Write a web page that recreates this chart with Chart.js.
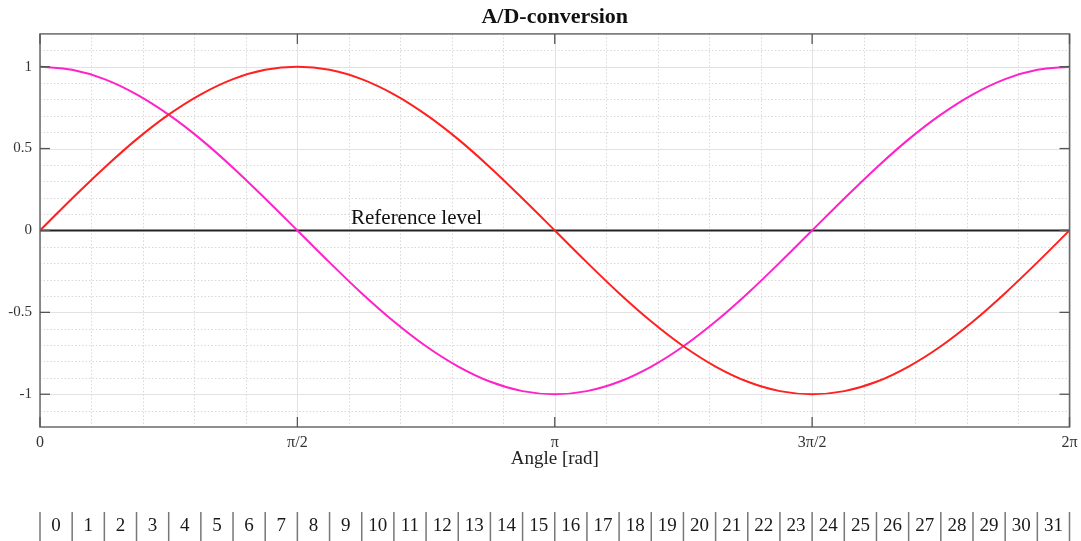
<!DOCTYPE html>
<html><head><meta charset="utf-8">
<script src="https://cdn.jsdelivr.net/npm/chart.js@4/dist/chart.umd.min.js"></script>
<style>html,body{margin:0;padding:0;background:#fff}#wrap{width:1081px;height:541px}</style>
</head><body><div id="wrap"><canvas id="c" width="1081" height="541"></canvas></div>
<script>
// ---- data ----
const angles = [0.000,0.196,0.393,0.589,0.785,0.982,1.178,1.374,1.571,1.767,1.963,2.160,2.356,2.553,2.749,2.945,3.142,3.338,3.534,3.731,3.927,4.123,4.320,4.516,4.712,4.909,5.105,5.301,5.498,5.694,5.890,6.087,6.283];
const sineValues = [0,0.195,0.383,0.556,0.707,0.831,0.924,0.981,1,0.981,0.924,0.831,0.707,0.556,0.383,0.195,0,-0.195,-0.383,-0.556,-0.707,-0.831,-0.924,-0.981,-1,-0.981,-0.924,-0.831,-0.707,-0.556,-0.383,-0.195,0];
const cosineValues = [1,0.981,0.924,0.831,0.707,0.556,0.383,0.195,0,-0.195,-0.383,-0.556,-0.707,-0.831,-0.924,-0.981,-1,-0.981,-0.924,-0.831,-0.707,-0.556,-0.383,-0.195,0,0.195,0.383,0.556,0.707,0.831,0.924,0.981,1];
const referenceAngles = [0, 6.2832];
const referenceValues = [0, 0];
const referenceLabel = 'Reference level';
const xTickValues = [0, 1.5708, 3.1416, 4.7124, 6.2832];
const xTickLabels = ['0', 'π/2', 'π', '3π/2', '2π'];
const yTickValues = [-1, -0.5, 0, 0.5, 1];
const yTickLabels = ['-1', '-0.5', '0', '0.5', '1'];
const sampleLabels = ['0','1','2','3','4','5','6','7','8','9','10','11','12','13','14','15','16','17','18','19','20','21','22','23','24','25','26','27','28','29','30','31'];
const titleText = 'A/D-conversion';
const xTitle = 'Angle [rad]';

const FONT = "'Liberation Serif', 'DejaVu Serif', serif";
const X_MIN = 0, X_MAX = 6.2832, Y_MIN = -1.2, Y_MAX = 1.2;

const toPts = (xs, ys) => xs.map((x, i) => ({x: x, y: ys[i]}));

const gridPlugin = {
  id: 'gridPlugin',
  beforeDatasetsDraw(chart) {
    const {ctx, chartArea: a, scales: {x, y}} = chart;
    ctx.save();
    ctx.lineWidth = 1;
    ctx.strokeStyle = '#d8d8d8';
    ctx.setLineDash([1.5, 2]);
    for (let k = 1; k < 20; k++) {
      if (k % 5 === 0) continue;
      const px = Math.round(x.getPixelForValue(k * X_MAX / 20)) + 0.5;
      ctx.beginPath(); ctx.moveTo(px, a.top); ctx.lineTo(px, a.bottom); ctx.stroke();
    }
    for (let k = -11; k <= 11; k++) {
      if (k % 5 === 0) continue;
      const py = Math.round(y.getPixelForValue(k / 10)) + 0.5;
      ctx.beginPath(); ctx.moveTo(a.left, py); ctx.lineTo(a.right, py); ctx.stroke();
    }
    ctx.setLineDash([]);
    ctx.strokeStyle = '#e2e2e2';
    xTickValues.forEach(v => {
      const px = Math.round(x.getPixelForValue(v)) + 0.5;
      ctx.beginPath(); ctx.moveTo(px, a.top); ctx.lineTo(px, a.bottom); ctx.stroke();
    });
    yTickValues.forEach(v => {
      const py = Math.round(y.getPixelForValue(v)) + 0.5;
      ctx.beginPath(); ctx.moveTo(a.left, py); ctx.lineTo(a.right, py); ctx.stroke();
    });
    ctx.restore();
  },
  afterDatasetsDraw(chart) {
    const {ctx, chartArea: a, scales: {x, y}} = chart;
    ctx.save();
    ctx.strokeStyle = '#6a6a6a';
    ctx.lineWidth = 1.5;
    ctx.strokeRect(a.left, a.top, a.right - a.left, a.bottom - a.top);
    ctx.strokeStyle = '#555';
    ctx.lineWidth = 1.3;
    yTickValues.forEach(v => {
      const py = y.getPixelForValue(v);
      ctx.beginPath(); ctx.moveTo(a.left, py); ctx.lineTo(a.left + 10, py); ctx.stroke();
      ctx.beginPath(); ctx.moveTo(a.right, py); ctx.lineTo(a.right - 10, py); ctx.stroke();
    });
    xTickValues.forEach(v => {
      const px = x.getPixelForValue(v);
      ctx.beginPath(); ctx.moveTo(px, a.bottom); ctx.lineTo(px, a.bottom - 10); ctx.stroke();
      ctx.beginPath(); ctx.moveTo(px, a.top); ctx.lineTo(px, a.top + 10); ctx.stroke();
    });
    ctx.fillStyle = '#111';
    ctx.font = '21px ' + FONT;
    ctx.textAlign = 'left';
    ctx.textBaseline = 'alphabetic';
    ctx.fillText(referenceLabel, x.getPixelForValue(1.898), y.getPixelForValue(0) - 6);
    ctx.restore();
  },
  afterDraw(chart) {
    const {ctx, scales: {x}} = chart;
    const n = sampleLabels.length;
    const step = (X_MAX - X_MIN) / n;
    ctx.save();
    ctx.strokeStyle = '#777';
    ctx.lineWidth = 1.5;
    for (let k = 0; k <= n; k++) {
      const px = x.getPixelForValue(X_MIN + k * step);
      ctx.beginPath(); ctx.moveTo(px, 512); ctx.lineTo(px, 541); ctx.stroke();
    }
    ctx.fillStyle = '#1a1a1a';
    ctx.font = '19px ' + FONT;
    ctx.textAlign = 'center';
    ctx.textBaseline = 'middle';
    sampleLabels.forEach((lab, k) => {
      const px = x.getPixelForValue(X_MIN + (k + 0.5) * step);
      ctx.fillText(lab, px, 526);
    });
    ctx.restore();
  }
};

new Chart(document.getElementById('c'), {
  type: 'line',
  data: {
    datasets: [
      {data: toPts(angles, sineValues), borderColor: '#ff2020', borderWidth: 2, pointRadius: 0, cubicInterpolationMode: 'monotone', fill: false},
      {data: toPts(angles, cosineValues), borderColor: '#ff22c8', borderWidth: 2, pointRadius: 0, cubicInterpolationMode: 'monotone', fill: false},
      {data: toPts(referenceAngles, referenceValues), borderColor: '#222', borderWidth: 2, pointRadius: 0, fill: false}
    ]
  },
  options: {
    responsive: false,
    animation: false,
    devicePixelRatio: 1,
    layout: {padding: {left: 0, right: 11.5, top: 0, bottom: 70.6}},
    plugins: {
      legend: {display: false},
      tooltip: {enabled: false},
      title: {display: true, text: titleText, fullSize: false, color: '#111',
        font: {family: FONT, size: 22, weight: 'bold'}, padding: {top: 4, bottom: 3.5}}
    },
    scales: {
      x: {
        type: 'linear', min: X_MIN, max: X_MAX,
        grid: {display: false}, border: {display: false},
        afterBuildTicks: s => { s.ticks = xTickValues.map(v => ({value: v})); },
        afterFit: s => { s.height = 43.4; s.paddingLeft = 0; s.paddingRight = 0; },
        ticks: {padding: -2, color: '#333', font: {family: FONT, size: 16},
          callback: (v, i) => xTickLabels[i], maxRotation: 0, autoSkip: false},
        title: {display: true, text: xTitle, color: '#222', font: {family: FONT, size: 19}, padding: {top: 0, bottom: 0}}
      },
      y: {
        min: Y_MIN, max: Y_MAX,
        grid: {display: false}, border: {display: false},
        afterBuildTicks: s => { s.ticks = yTickValues.map(v => ({value: v})); },
        afterFit: s => { s.width = 40; s.paddingTop = 0; s.paddingBottom = 0; },
        ticks: {padding: 0, color: '#333', font: {family: FONT, size: 15},
          callback: (v, i) => yTickLabels[i]}
      }
    }
  },
  plugins: [gridPlugin]
});
</script>
</body></html>
